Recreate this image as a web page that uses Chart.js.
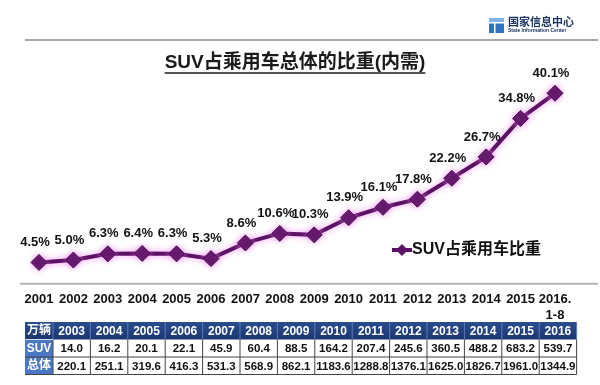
<!DOCTYPE html>
<html>
<head>
<meta charset="utf-8">
<script src="https://cdn.jsdelivr.net/npm/chart.js@4"></script>
<style>
  body { margin: 0; background: #fff; }
  #wrap { width: 600px; height: 385px; }
</style>
</head>
<body>
<div id="wrap"><canvas id="chart" width="600" height="385"></canvas></div>
<script>
'use strict';

// chart data
const years = ['2001', '2002', '2003', '2004', '2005', '2006', '2007', '2008',
  '2009', '2010', '2011', '2012', '2013', '2014', '2015', ['2016.', '1-8']];
const suvShare = [4.5, 5.0, 6.3, 6.4, 6.3, 5.3, 8.6, 10.6, 10.3, 13.9, 16.1, 17.8, 22.2, 26.7, 34.8, 40.1];

// table data (万辆)
const tableYears = ['2003', '2004', '2005', '2006', '2007', '2008', '2009',
  '2010', '2011', '2012', '2013', '2014', '2015', '2016'];
const suvSales = ['14.0', '16.2', '20.1', '22.1', '45.9', '60.4', '88.5',
  '164.2', '207.4', '245.6', '360.5', '488.2', '683.2', '539.7'];
const totalSales = ['220.1', '251.1', '319.6', '416.3', '531.3', '568.9', '862.1',
  '1183.6', '1288.8', '1376.1', '1625.0', '1826.7', '1961.0', '1344.9'];

const titleText = 'SUV占乘用车总体的比重(内需)';
const seriesName = 'SUV占乘用车比重';

const FONT = '"Liberation Sans", "Noto Sans CJK SC", Arial, sans-serif';
const purple = '#5c1264';

// Define drawing helpers for the extra decorations
const decorations = {
  id: 'decorations',
  beforeDatasetsDraw(chart) {
    const ctx = chart.ctx;
    const y0 = chart.scales.y.getPixelForValue(0);
    ctx.save();
    // header rule
    ctx.strokeStyle = '#a8a8a8';
    ctx.lineWidth = 2;
    ctx.beginPath();
    ctx.moveTo(25, 40);
    ctx.lineTo(598, 40);
    ctx.stroke();
    // baseline
    ctx.strokeStyle = '#b5b5b5';
    ctx.lineWidth = 2;
    ctx.beginPath();
    ctx.moveTo(20, y0);
    ctx.lineTo(598, y0);
    ctx.stroke();

    // logo
    ctx.fillStyle = '#2f72c4';
    ctx.fillRect(489, 18, 15, 15);
    ctx.fillStyle = '#7fb3e6';
    ctx.fillRect(489, 18, 15, 4);
    ctx.fillStyle = '#fff';
    ctx.fillRect(489, 22, 15, 1.5);
    ctx.fillRect(494, 22, 1.5, 11);
    ctx.fillStyle = '#1c3566';
    ctx.font = 'bold 11px "Noto Sans CJK SC", serif';
    ctx.textBaseline = 'middle';
    ctx.textAlign = 'left';
    ctx.fillText('国家信息中心', 508, 22);
    ctx.font = 'bold 5px ' + FONT;
    ctx.fillText('State Information Center', 508, 31);

    // title
    ctx.fillStyle = '#1a1a1a';
    ctx.font = 'bold 19px ' + FONT;
    ctx.textAlign = 'center';
    ctx.fillText(titleText, 295, 63);
    const tw = ctx.measureText(titleText).width;
    ctx.strokeStyle = '#1a1a1a';
    ctx.lineWidth = 1.5;
    ctx.beginPath();
    ctx.moveTo(295 - tw / 2, 73);
    ctx.lineTo(295 + tw / 2, 73);
    ctx.stroke();

    // legend
    ctx.strokeStyle = purple;
    ctx.lineWidth = 4;
    ctx.beginPath();
    ctx.moveTo(392, 250);
    ctx.lineTo(412, 250);
    ctx.stroke();
    ctx.fillStyle = purple;
    ctx.beginPath();
    ctx.moveTo(402, 244);
    ctx.lineTo(408, 250);
    ctx.lineTo(402, 256);
    ctx.lineTo(396, 250);
    ctx.closePath();
    ctx.fill();
    ctx.fillStyle = '#111';
    ctx.font = 'bold 16px ' + FONT;
    ctx.textAlign = 'left';
    ctx.fillText(chart.data.datasets[0].label, 412, 250);

    drawTable(ctx);
    ctx.restore();
  },
  afterDatasetsDraw(chart) {
    const ctx = chart.ctx;
    const meta = chart.getDatasetMeta(0);
    ctx.save();
    ctx.fillStyle = '#111';
    ctx.font = 'bold 13px ' + FONT;
    ctx.textAlign = 'center';
    ctx.textBaseline = 'middle';
    meta.data.forEach((pt, i) => {
      ctx.fillText(suvShare[i].toFixed(1) + '%', pt.x - 4, pt.y - 20);
    });
    ctx.restore();
  }
};

function drawTable(ctx) {
  const left = 25, firstW = 28, colW = 37.4, top = 322, rowH = 17.5;
  const right = left + firstW + colW * tableYears.length;

  // header row
  const grad = ctx.createLinearGradient(0, top, 0, top + rowH);
  grad.addColorStop(0, '#2a4d8f');
  grad.addColorStop(1, '#1b3670');
  ctx.fillStyle = grad;
  ctx.fillRect(left, top, right - left, rowH);
  // first column body cells
  ctx.fillStyle = '#4a78c4';
  ctx.fillRect(left, top + rowH, firstW, rowH * 2);

  // grid lines
  ctx.lineWidth = 1;
  ctx.strokeStyle = '#5a7fb8';
  for (let i = 0; i <= tableYears.length; i++) {
    const x = left + firstW + colW * i;
    ctx.beginPath();
    ctx.moveTo(x, top);
    ctx.lineTo(x, top + rowH);
    ctx.stroke();
  }
  ctx.strokeStyle = '#444';
  for (let i = 0; i <= tableYears.length; i++) {
    const x = left + firstW + colW * i;
    ctx.beginPath();
    ctx.moveTo(x, top + rowH);
    ctx.lineTo(x, top + rowH * 3);
    ctx.stroke();
  }
  [2, 3].forEach(r => {
    ctx.beginPath();
    ctx.moveTo(left, top + rowH * r);
    ctx.lineTo(right, top + rowH * r);
    ctx.stroke();
  });
  ctx.strokeStyle = '#d6dfee';
  ctx.beginPath();
  ctx.moveTo(left, top + rowH);
  ctx.lineTo(left + firstW, top + rowH);
  ctx.stroke();

  // text
  ctx.textAlign = 'center';
  ctx.textBaseline = 'middle';
  ctx.fillStyle = '#fff';
  ctx.font = 'bold 12px ' + FONT;
  ctx.fillText('万辆', left + firstW / 2, top + rowH / 2);
  ctx.fillText('SUV', left + firstW / 2, top + rowH * 1.5);
  ctx.fillText('总体', left + firstW / 2, top + rowH * 2.5);
  tableYears.forEach((yr, i) => {
    ctx.fillStyle = '#fff';
    ctx.font = 'bold 12px ' + FONT;
    const cx = left + firstW + colW * (i + 0.5);
    ctx.fillText(yr, cx, top + rowH / 2 + 1);
    ctx.fillStyle = '#111';
    ctx.font = 'bold 11.5px ' + FONT;
    ctx.fillText(suvSales[i], cx, top + rowH * 1.5 + 1);
    ctx.fillText(totalSales[i], cx, top + rowH * 2.5 + 1);
  });
}

const glow = {
  id: 'glow',
  beforeDatasetDraw(chart) {
    chart.ctx.save();
    chart.ctx.shadowColor = 'rgba(235, 130, 235, 0.8)';
    chart.ctx.shadowBlur = 6;
  },
  afterDatasetDraw(chart) {
    chart.ctx.restore();
  }
};

function renderChart() {
  const ctx = document.getElementById('chart').getContext('2d');
  new Chart(ctx, {
    type: 'line',
    data: {
      labels: years,
      datasets: [{
        label: seriesName,
        data: suvShare,
        borderColor: purple,
        borderWidth: 4,
        backgroundColor: purple,
        pointStyle: 'rectRot',
        pointRadius: 8,
        pointBorderColor: '#4a0c52',
        pointBorderWidth: 1,
        tension: 0
      }]
    },
    options: {
      responsive: false,
      animation: false,
      layout: { padding: { left: 39, right: 45, top: 70, bottom: 54 } },
      plugins: {
        legend: { display: false },
        tooltip: { enabled: false }
      },
      scales: {
        x: {
          offset: false,
          grid: { display: false, drawTicks: false },
          border: { display: false },
          ticks: {
            color: '#111',
            font: { family: FONT, size: 13, weight: 'bold' },
            padding: 8,
            maxRotation: 0,
            autoSkip: false
          }
        },
        y: {
          display: false,
          min: 0,
          max: 45
        }
      }
    },
    plugins: [decorations, glow]
  });
}

document.addEventListener('DOMContentLoaded', renderChart);
</script>
</body>
</html>
